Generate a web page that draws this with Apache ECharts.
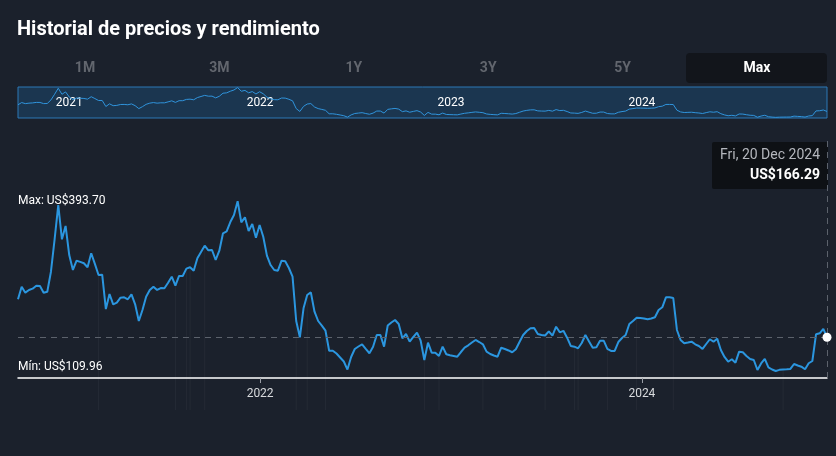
<!DOCTYPE html>
<html lang="es">

<head>
  <meta charset="UTF-8">
  <meta name="viewport" content="width=device-width, initial-scale=1.0">
  <script type="text/javascript" src="https://cdn.jsdelivr.net/npm/echarts@6/dist/echarts.min.js"></script>
  <title>Historial de precios y rendimiento</title>
  <style>
    html, body {
      margin: 0;
      padding: 0;
      background-color: #1b212c;
      overflow: hidden;
    }

    #chart {
      width: 836px;
      height: 456px;
    }
  </style>
</head>

<body>
  <div id="chart"></div>

  <script>
    // cierres semanales (viernes)
    const firstFriday = '2020-09-25';
    const close2020 = [229.8, 250.8, 240.8, 245.3, 247.5, 252.5, 252.0, 240.8, 242.4, 275.8, 330.0, 387.2, 329.9, 352.2];
    const close2021 = [303.7, 278.7, 294.2, 292.2, 289.9, 283.2, 306.6, 289.0, 270.3, 270.8, 213.5, 238.6, 221.4, 224.1,
      232.4, 233.1, 229.8, 238.1, 221.4, 193.5, 211.9, 234.1, 245.3, 250.8, 245.3, 248.6, 248.1, 257.5, 267.5, 252.5,
      268.7, 268.7, 280.9, 283.2, 277.5, 298.2, 308.7, 319.3, 311.6, 312.1, 295.4, 310.9, 340.0, 343.3, 358.8, 370.5,
      393.7, 358.3, 366.7, 343.8, 355.5, 332.6, 353.8];
    const close2022 = [334.3, 302.6, 287.0, 278.7, 277.5, 294.2, 293.2, 282.0, 267.5, 193.5, 166.3, 214.7, 236.9, 241.4,
      209.0, 193.5, 185.7, 177.3, 143.9, 143.9, 139.2, 132.6, 125.9, 112.4, 133.4, 146.8, 150.9, 154.6, 146.8, 139.6,
      150.6, 170.1, 170.1, 150.6, 186.0, 191.0, 195.2, 188.5, 164.6, 171.8, 159.0, 166.8, 174.0, 160.6, 128.4, 157.3,
      140.6, 140.6, 135.1, 150.6, 137.9, 136.2];
    const close2023 = [135.1, 133.9, 141.7, 148.9, 152.9, 157.6, 161.8, 158.4, 154.6, 142.3, 138.4, 135.9, 133.9, 148.9,
      146.8, 144.3, 141.3, 146.3, 158.4, 170.1, 176.8, 181.3, 181.8, 171.8, 170.1, 169.3, 176.3, 169.0, 184.0, 174.6,
      177.1, 165.6, 151.8, 150.6, 147.9, 156.8, 170.1, 159.3, 148.9, 149.6, 160.6, 160.6, 146.8, 143.4, 143.4, 158.4,
      165.1, 170.1, 188.5, 193.5, 199.0, 198.5];
    const close2024 = [197.7, 196.4, 197.7, 199.7, 211.9, 216.4, 233.1, 233.1, 231.9, 178.5, 161.8, 156.3, 157.6, 159.0,
      154.6, 151.8, 146.8, 155.1, 163.0, 159.0, 164.0, 145.1, 133.4, 125.5, 129.6, 123.9, 142.3, 141.3, 135.1, 130.1,
      128.4, 111.7, 122.7, 130.1, 116.2, 112.5, 109.96, 111.9, 112.5, 112.9, 113.4, 121.7, 119.2, 117.2, 112.9, 122.9,
      126.7, 171.3, 173.0, 180.2, 166.29];

    // semanas con marca vertical tenue
    const eventDates = ['2021-02-26', '2021-07-23', '2021-08-13', '2021-08-20', '2021-09-17', '2022-03-11', '2022-04-01',
      '2022-05-06', '2022-11-11', '2022-12-09', '2023-03-03', '2023-06-30', '2023-08-25', '2023-09-01', '2023-10-27',
      '2023-12-22', '2024-03-01', '2024-09-27'];

    const axisYears = ['2022', '2024'];
    const navYears = ['2021', '2022', '2023', '2024'];
    const rangeButtons = ['1M', '3M', '1Y', '3Y', '5Y', 'Max'];
    const activeRange = 'Max';

    const dayNames = ['Sun', 'Mon', 'Tue', 'Wed', 'Thu', 'Fri', 'Sat'];
    const monthNames = ['Jan', 'Feb', 'Mar', 'Apr', 'May', 'Jun', 'Jul', 'Aug', 'Sep', 'Oct', 'Nov', 'Dec'];

    // armar la serie (eje x en milisegundos)
    const toTime = d => echarts.time.parse(d).getTime();
    const closes = [].concat(close2020, close2021, close2022, close2023, close2024);
    const t0 = toTime(firstFriday);
    const times = closes.map((v, i) => t0 + i * 7 * 86400000);
    const priceData = times.map((t, i) => [t, closes[i]]);
    const eventData = eventDates.map(d => {
      const t = toTime(d);
      const i = Math.round((t - t0) / (7 * 86400000));
      return [t, closes[i]];
    });

    const lastTime = times[times.length - 1];
    const lastClose = closes[closes.length - 1];
    const maxClose = Math.max(...closes);
    const minClose = Math.min(...closes);

    const yearStart = y => toTime(y + '-01-01');
    const fmtUSD = v => 'US$' + v.toFixed(2);
    const fmtDay = t => {
      const dt = new Date(t);
      return dayNames[dt.getDay()] + ', ' + dt.getDate() + ' ' + monthNames[dt.getMonth()] + ' ' + dt.getFullYear();
    };

    const font = 'Roboto, "Noto Sans", sans-serif';
    const lineBlue = '#2b96df';

    let chart = echarts.init(document.getElementById('chart'));

    // botones de rango y titulo
    let graphics = [{
      type: 'text',
      x: 17,
      y: 30,
      style: { text: 'Historial de precios y rendimiento', fill: '#ffffff', font: 'bold 20px ' + font, verticalAlign: 'middle' }
    }];
    rangeButtons.forEach((b, i) => {
      const cx = 85 + i * 134.4;
      if (b === activeRange) {
        graphics.push({
          type: 'rect',
          shape: { x: cx - 71, y: 53, width: 141, height: 30, r: 4 },
          style: { fill: '#12151b' }
        });
      }
      graphics.push({
        type: 'text',
        x: cx,
        y: 68,
        style: {
          text: b, fill: b === activeRange ? '#ffffff' : '#62666e', font: 'bold 14px ' + font,
          align: 'center', verticalAlign: 'middle'
        }
      });
    });

    // caja del ultimo valor
    graphics.push({
      type: 'group',
      z: 100,
      children: [
        { type: 'rect', shape: { x: 712, y: 142, width: 116, height: 47, r: 2 }, style: { fill: '#0e1115' } },
        {
          type: 'text', x: 820, y: 155,
          style: { text: fmtDay(lastTime), fill: '#b4b7bd', font: '14px ' + font, align: 'right', verticalAlign: 'middle' }
        },
        {
          type: 'text', x: 820, y: 175,
          style: { text: fmtUSD(lastClose), fill: '#ffffff', font: 'bold 14px ' + font, align: 'right', verticalAlign: 'middle' }
        }
      ]
    });

    const yearLabel = v => String(new Date(v).getFullYear());

    chart.setOption({
      animation: false,
      backgroundColor: '#1b212c',
      textStyle: { fontFamily: font },
      grid: [
        { left: 18, right: 9, top: 140, bottom: 78 },
        {
          left: 18, right: 9, top: 87, height: 31, show: true,
          backgroundColor: '#1b3650', borderColor: '#2c78b6', borderWidth: 1
        }
      ],
      xAxis: [
        {
          type: 'value',
          gridIndex: 0,
          min: t0,
          max: lastTime,
          axisLine: { lineStyle: { color: '#ffffff', width: 1.5 } },
          axisTick: { show: true, customValues: axisYears.map(yearStart), length: 5, lineStyle: { color: '#9a9ea6' } },
          axisLabel: {
            customValues: axisYears.map(yearStart),
            formatter: yearLabel,
            color: '#d8dadd', fontSize: 12, margin: 10
          },
          splitLine: { show: false }
        },
        {
          type: 'value',
          gridIndex: 1,
          min: t0,
          max: lastTime,
          axisLine: { show: false },
          axisTick: { show: false },
          axisLabel: {
            inside: true,
            customValues: navYears.map(yearStart),
            formatter: yearLabel,
            color: '#ffffff', fontSize: 12, margin: 9
          },
          splitLine: { show: false }
        }
      ],
      yAxis: [
        { type: 'value', gridIndex: 0, min: 98.3, max: 495.8, show: false, splitLine: { show: false } },
        { type: 'value', gridIndex: 1, min: 104, max: 399, show: false, splitLine: { show: false } }
      ],
      series: [
        {
          type: 'custom',
          xAxisIndex: 0,
          yAxisIndex: 0,
          clip: false,
          silent: true,
          z: 1,
          data: eventData,
          renderItem: function (params, api) {
            const p = api.coord([api.value(0), api.value(1)]);
            const bottom = params.coordSys.y + params.coordSys.height + 32;
            return {
              type: 'line',
              shape: { x1: p[0], y1: p[1], x2: p[0], y2: bottom },
              style: { stroke: 'rgba(255,255,255,0.045)', lineWidth: 1 }
            };
          }
        },
        {
          type: 'line',
          xAxisIndex: 0,
          yAxisIndex: 0,
          data: priceData,
          showSymbol: false,
          z: 3,
          lineStyle: { color: lineBlue, width: 2 },
          markLine: {
            silent: true,
            symbol: 'none',
            label: { show: false },
            lineStyle: { color: '#5c626c', type: [6, 5], width: 1 },
            data: [{ yAxis: lastClose }, { xAxis: lastTime }]
          },
          markPoint: {
            silent: true,
            symbol: 'circle',
            symbolSize: 9,
            itemStyle: { color: '#ffffff' },
            label: { show: false },
            data: [{ coord: [lastTime, lastClose] }]
          }
        },
        {
          type: 'line',
          xAxisIndex: 1,
          yAxisIndex: 1,
          data: priceData,
          showSymbol: false,
          silent: true,
          lineStyle: { color: '#3094dc', width: 1 }
        }
      ],
      graphic: graphics
    });

    // etiquetas de maximo y minimo junto a su nivel
    const yMax = chart.convertToPixel({ yAxisIndex: 0 }, maxClose);
    const yMin = chart.convertToPixel({ yAxisIndex: 0 }, minClose);
    graphics.push({
      type: 'text', x: 18, y: yMax,
      style: { text: 'Max: ' + fmtUSD(maxClose), fill: '#ffffff', font: '12px ' + font, verticalAlign: 'middle' }
    });
    graphics.push({
      type: 'text', x: 18, y: yMin + 2,
      style: { text: 'Mín: ' + fmtUSD(minClose), fill: '#ffffff', font: '12px ' + font, verticalAlign: 'bottom' }
    });
    chart.setOption({ graphic: graphics }, { replaceMerge: ['graphic'] });
  </script>

</body>

</html>
